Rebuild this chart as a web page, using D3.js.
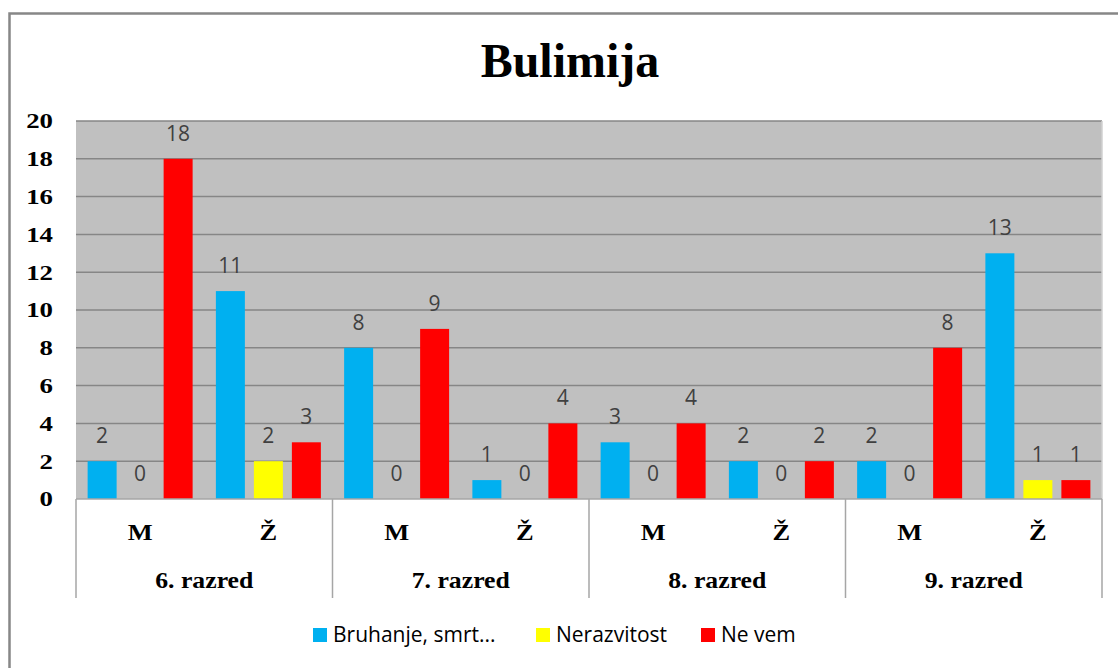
<!DOCTYPE html>
<html>
<head>
<meta charset="utf-8">
<script src="https://cdn.jsdelivr.net/npm/d3@7"></script>
<style>
  html, body { margin: 0; padding: 0; background: #fff; }
  svg { display: block; }
</style>
</head>
<body>
<div id="chart"></div>
<script>
(function() {
"use strict"

var W = 1118, H = 668;

// data
var grades = ["6. razred", "7. razred", "8. razred", "9. razred"];
var genders = ["M", "Ž"];
var seriesNames = ["Bruhanje, smrt...", "Nerazvitost", "Ne vem"];
var seriesColors = ["#00B0F0", "#FFFF00", "#FF0000"];
var bruhanje = [2, 11, 8, 1, 3, 2, 2, 13];
var nerazvitost = [0, 2, 0, 0, 0, 0, 0, 1];
var neVem = [18, 3, 9, 4, 4, 2, 8, 1];
var yTicks = [0, 2, 4, 6, 8, 10, 12, 14, 16, 18, 20];

var seriesValues = [bruhanje, nerazvitost, neVem];

// one row per (grade, gender) slot
var slots = [];
grades.forEach(function(g, gi) {
    genders.forEach(function(s, si) {
        slots.push({grade: g, gender: s, idx: gi * genders.length + si});
    });
});

var plot = {left: 76, right: 1102, top: 121, bottom: 499};

var svg = d3.select("#chart").append("svg")
    .attr("width", W)
    .attr("height", H);

// outer chart border
svg.append("rect")
    .attr("x", 9.5).attr("y", 13.5)
    .attr("width", W + 10).attr("height", H + 10)
    .style("fill", "#fff")
    .style("stroke", "#878787")
    .style("stroke-width", 2.5);

var y = d3.scaleLinear()
    .domain([0, 20])
    .range([plot.bottom, plot.top]);

var x0 = d3.scaleBand()
    .domain(slots.map(function(d) { return d.idx; }))
    .range([plot.left, plot.right])
    .padding(0);

var x1 = d3.scaleBand()
    .domain(d3.range(seriesNames.length))
    .range([0, x0.bandwidth()])
    .paddingInner(0.237)
    .paddingOuter(0.306);

var xg = d3.scaleBand()
    .domain(grades)
    .range([plot.left, plot.right]);

// plot background
svg.append("rect")
    .attr("x", plot.left).attr("y", plot.top)
    .attr("width", plot.right - plot.left)
    .attr("height", plot.bottom - plot.top)
    .style("fill", "#C0C0C0");

// gridlines
svg.append("g")
    .selectAll("line")
    .data(yTicks.slice(1))
    .enter().append("line")
    .attr("x1", plot.left).attr("x2", plot.right)
    .attr("y1", function(d) { return y(d); })
    .attr("y2", function(d) { return y(d); })
    .style("stroke", "#868686")
    .style("stroke-width", 1.5);

svg.append("line")
    .attr("x1", plot.right).attr("x2", plot.right)
    .attr("y1", plot.top).attr("y2", plot.bottom)
    .style("stroke", "#d0d0d0")
    .style("stroke-width", 1.5);

// y tick labels (slightly stretched like the original)
svg.append("g")
    .selectAll("text")
    .data(yTicks)
    .enter().append("text")
    .attr("transform", function(d) { return "translate(53," + y(d) + ") scale(1.22,1)"; })
    .attr("dy", "0.34em")
    .attr("text-anchor", "end")
    .style("font-family", "'Liberation Serif', 'Times New Roman', serif")
    .style("font-weight", "bold")
    .style("font-size", "22px")
    .style("fill", "#000")
    .text(function(d) { return d; });

// bars
var bars = svg.append("g");
seriesValues.forEach(function(vals, si) {
    bars.selectAll(".bar" + si)
        .data(slots)
        .enter().append("rect")
        .attr("class", "bar" + si)
        .attr("x", function(d) { return x0(d.idx) + x1(si); })
        .attr("y", function(d) { return y(vals[d.idx]); })
        .attr("width", x1.bandwidth())
        .attr("height", function(d) { return plot.bottom - y(vals[d.idx]); })
        .style("fill", seriesColors[si]);

    bars.selectAll(".lab" + si)
        .data(slots)
        .enter().append("text")
        .attr("x", function(d) { return x0(d.idx) + x1(si) + x1.bandwidth() / 2; })
        .attr("y", function(d) { return y(vals[d.idx]) - 18; })
        .attr("text-anchor", "middle")
        .style("font-family", "'Open Sans', sans-serif")
        .style("font-size", "21px")
        .style("fill", "#404040")
        .text(function(d) { return vals[d.idx]; });
});

// category axis (two levels)
var catBottom = 598;
svg.append("line")
    .attr("x1", plot.left).attr("x2", plot.right)
    .attr("y1", plot.bottom).attr("y2", plot.bottom)
    .style("stroke", "#a6a6a6")
    .style("stroke-width", 1.5);

svg.append("g")
    .selectAll("line")
    .data(grades.concat(["end"]))
    .enter().append("line")
    .attr("x1", function(d, i) { return plot.left + i * xg.bandwidth(); })
    .attr("x2", function(d, i) { return plot.left + i * xg.bandwidth(); })
    .attr("y1", plot.bottom).attr("y2", catBottom)
    .style("stroke", "#a6a6a6")
    .style("stroke-width", 1.5);

var catFont = function(sel) {
    sel.style("font-family", "'Liberation Serif', 'Times New Roman', serif")
        .style("font-weight", "bold")
        .style("font-size", "23px")
        .style("fill", "#000")
        .attr("text-anchor", "middle");
};

svg.append("g")
    .selectAll("text")
    .data(slots)
    .enter().append("text")
    .attr("transform", function(d) {
        return "translate(" + (x0(d.idx) + x0.bandwidth() / 2) + ",540) scale(1.15,1)";
    })
    .call(catFont)
    .text(function(d) { return d.gender; });

svg.append("g")
    .selectAll("text")
    .data(grades)
    .enter().append("text")
    .attr("transform", function(d) {
        return "translate(" + (xg(d) + xg.bandwidth() / 2) + ",588) scale(1.12,1)";
    })
    .call(catFont)
    .text(function(d) { return d; });

// title
svg.append("text")
    .attr("x", 570).attr("y", 77)
    .attr("text-anchor", "middle")
    .style("font-family", "'Liberation Serif', 'Times New Roman', serif")
    .style("font-weight", "bold")
    .style("font-size", "48px")
    .style("fill", "#000")
    .text("Bulimija");

// legend
var legendX = [313, 536, 701];
var legend = svg.append("g")
    .selectAll("g")
    .data(seriesNames)
    .enter().append("g")
    .attr("transform", function(d, i) { return "translate(" + legendX[i] + ",628)"; });
legend.append("rect")
    .attr("width", 14).attr("height", 14)
    .style("fill", function(d, i) { return seriesColors[i]; });
legend.append("text")
    .attr("x", 20).attr("y", 14)
    .style("font-family", "'Open Sans', sans-serif")
    .style("font-size", "21px")
    .style("fill", "#000")
    .text(function(d) { return d; });

})();
</script>
</body>
</html>
